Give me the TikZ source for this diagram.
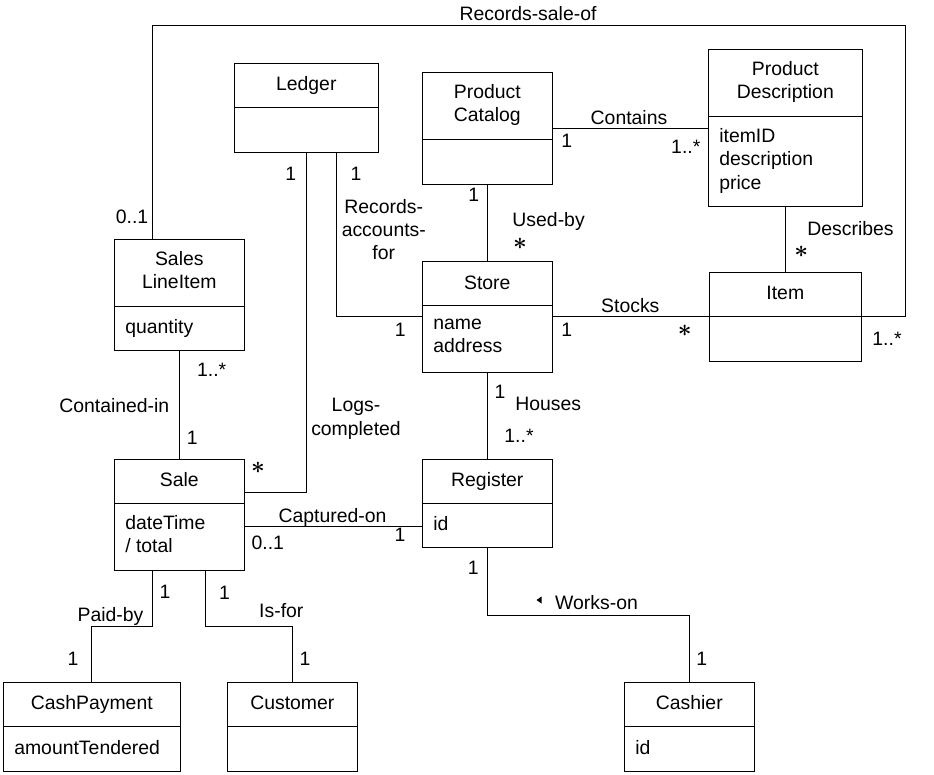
\documentclass[tikz,border=0pt]{standalone}
\usepackage{fontspec}
\setmainfont{Liberation Sans}
\usetikzlibrary{calc}
\tikzset{
  txt/.style={font=\fontsize{19.4}{23.3}\selectfont, inner sep=0pt, outer sep=0pt},
  classbox/.style={draw, line width=1pt, inner sep=0pt, outer sep=0pt},
  conn/.style={draw, line width=1pt},
  ttl/.style={txt, align=center, execute at begin node=\strut},
  attr/.style={txt, align=left, anchor=west, execute at begin node=\strut},
  lbl/.style={txt, align=center, execute at begin node=\strut},
  bigstar/.style={inner sep=0pt, outer sep=0pt, font=\fontsize{10}{12}\selectfont},
}
% #1 name, #2 x1, #3 y1, #4 x2, #5 y2, #6 divider y, #7 title, #8 attributes
\newcommand\umlclass[8]{%
  \node[classbox, anchor=north west, minimum width={#4-#2}, minimum height={#5-#3}] (#1) at (#2,#3) {};
  \draw[conn] ($(#1.north west)+(0,{#6-#3})$) -- ($(#1.north east)+(0,{#6-#3})$);
  \node[ttl] (#1-name) at ({(#2+#4)/2},{(#3+#6)/2+1}) {#7};
  \node[attr] (#1-attr) at ({#2+11},{(#6+#5)/2+0.8}) {#8};
}
% #1 name, #2 x, #3 y (cap centre), #4 text
\newcommand\mlabel[4]{\node[lbl] (#1) at (#2,{#3+2.3}) {#4};}
\newcommand\mstar[3]{\node[bigstar] (#1) at (#2,#3) {\scalebox{2.4}{\boldmath$\ast$}};}
\begin{document}
\begin{tikzpicture}[x=1pt,y=-1pt]
\useasboundingbox (0,0) rectangle (934,774);

% classes
\umlclass{ledger}{234.3}{63.3}{378.3}{152.3}{107.3}{Ledger}{}
\umlclass{catalog}{422.3}{72.3}{552.3}{184}{139.3}{Product\\\strut Catalog}{}
\umlclass{desc}{708.3}{49.3}{862.3}{206.7}{116.3}{Product\\\strut Description}{itemID\\\strut description\\\strut price}
\umlclass{sli}{114.3}{239.3}{244.3}{350}{306}{Sales\\\strut LineItem}{quantity}
\umlclass{store}{422.3}{261.7}{552.3}{372}{305}{Store}{name\\\strut address}
\umlclass{item}{709.3}{272.3}{861.3}{361}{316}{Item}{}
\umlclass{sale}{114.3}{459.3}{244.3}{570.3}{503.3}{Sale}{dateTime\\\strut / total}
\umlclass{register}{422.3}{459.3}{552.3}{547.3}{503.3}{Register}{id}
\umlclass{cash}{3.3}{682.3}{180.3}{771.3}{726.3}{CashPayment}{amountTendered}
\umlclass{customer}{227.3}{682.3}{357.3}{771.3}{726.3}{Customer}{}
\umlclass{cashier}{624.3}{682.3}{754.3}{771.3}{726.3}{Cashier}{id}

% helper coordinates for bends
\coordinate (rsTop) at (905.3,25);
\coordinate (lcB) at (306.3,492);
\coordinate (capY) at (0,526);
\coordinate (botY) at (0,626);
\coordinate (woY) at (0,615.5);

% connectors
\draw[conn] ($(sli.north west)+(38,0)$) |- (rsTop) |- (item.east);
\draw[conn] ($(ledger.south west)+(102,0)$) |- (store.west);
\draw[conn] ($(ledger.south west)+(72,0)$) |- (sale.east |- lcB);
\draw[conn] (catalog.south) -- (store.north);
\draw[conn] (catalog.east) -- (catalog.east -| desc.west);
\draw[conn] (desc.south) -- (item.north);
\draw[conn] (store.east) -- (store.east -| item.west);
\draw[conn] (store.south) -- (register.north);
\draw[conn] (sli.south) -- (sale.north);
\draw[conn] (sale.east |- capY) -- (register.west |- capY);
\draw[conn] ($(sale.south west)+(38,0)$) |- (cash.north |- botY) -- (cash.north);
\draw[conn] ($(sale.south west)+(91,0)$) |- (customer.north |- botY) -- (customer.north);
\draw[conn] (register.south) |- (cashier.north |- woY) -- (cashier.north);

% association names
\mlabel{rso}{528}{14}{Records-sale-of}
\mlabel{raf}{383.8}{230.8}{Records-\\\strut accounts-\\\strut for}
\mlabel{usedby}{548.6}{219.2}{Used-by}
\mlabel{contains}{629}{117.5}{Contains}
\mlabel{describes}{850.5}{228.3}{Describes}
\mlabel{stocks}{630.3}{305.5}{Stocks}
\mlabel{houses}{548.3}{403.8}{Houses}
\mlabel{containedin}{114.3}{405.5}{Contained-in}
\mlabel{logs}{356}{418.1}{Logs-\\\strut completed}
\mlabel{captured}{332.5}{515.5}{Captured-on}
\mlabel{paidby}{110.5}{614.7}{Paid-by}
\mlabel{isfor}{281.3}{610.3}{Is-for}
\mlabel{workson}{596.5}{603}{Works-on}
\fill (541.5,596.5) -- (541.5,603.5) -- (536.5,600) -- cycle;

% multiplicities
\mlabel{m1}{132}{217}{0..1}
\mlabel{m2}{290.7}{173.3}{1}
\mlabel{m3}{356}{173.3}{1}
\mlabel{m4}{400.3}{329.7}{1}
\mlabel{m5}{473.7}{194.7}{1}
\mlabel{m6}{566.7}{140.8}{1}
\mlabel{m7}{566.7}{329.7}{1}
\mlabel{m8}{685.8}{146.7}{1..*}
\mlabel{m9}{887}{338.3}{1..*}
\mlabel{m10}{211.7}{369.7}{1..*}
\mlabel{m11}{192.2}{437.2}{1}
\mlabel{m12}{267.8}{542.2}{0..1}
\mlabel{m13}{400}{535}{1}
\mlabel{m14}{165}{591.2}{1}
\mlabel{m15}{73}{658.8}{1}
\mlabel{m16}{224.5}{592.2}{1}
\mlabel{m17}{305}{658.8}{1}
\mlabel{m18}{500}{392}{1}
\mlabel{m19}{519}{435.8}{1..*}
\mlabel{m20}{473.3}{568}{1}
\mlabel{m21}{701.7}{658.8}{1}
\mstar{s1}{520}{244}
\mstar{s2}{801.3}{252}
\mstar{s3}{684.7}{331.3}
\mstar{s4}{258}{468}
\end{tikzpicture}
\end{document}
